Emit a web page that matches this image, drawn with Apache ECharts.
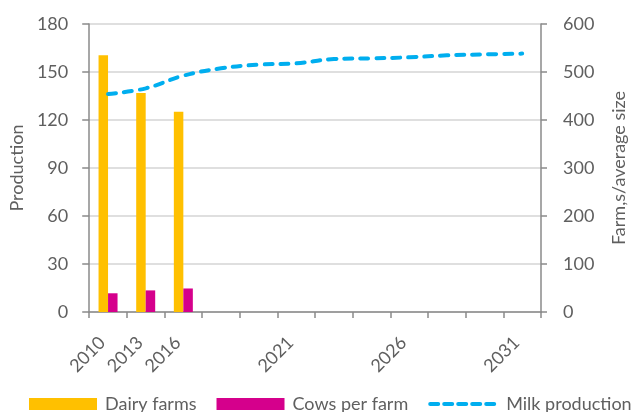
<!DOCTYPE html>
<html>
<head>
<meta charset="utf-8">
<script src="https://cdn.jsdelivr.net/npm/echarts@6/dist/echarts.min.js"></script>
<style>
html,body{margin:0;padding:0;background:#fff;}
#chart{width:636px;height:412px;}
</style>
</head>
<body>
<div id="chart"></div>
<script>
// Category labels (unlabelled categories are blank in the original)
const categories = ["2010","2013","2016","","","2021","","","2026","","","2031"];
// Bars on right axis (Farms / average size)
const dairyFarms = [535, 456, 417, null, null, null, null, null, null, null, null, null];
const cowsPerFarm = [39, 45, 49, null, null, null, null, null, null, null, null, null];
// Line on left axis (Production)
const milkProduction = [136.2, 139.8, 147.7, 152.3, 154.6, 155.4, 158.1, 158.5, 159.2, 160.4, 161.0, 161.5];
// Axis ticks
const leftTicks = {min: 0, max: 180, interval: 30};
const rightTicks = {min: 0, max: 600, interval: 100};

const FONT = "Lato";
const TXT = "#5f5f5f";
const AX = "#8a8a8a";

const chart = echarts.init(document.getElementById('chart'), null, {renderer: 'canvas'});
chart.setOption({
  backgroundColor: '#fff',
  animation: false,
  textStyle: {fontFamily: FONT},
  grid: {left: 83, right: 81, top: 24, bottom: 100, containLabel: false},
  legend: {
    left: 24, top: 390, width: 612,
    itemWidth: 68, itemHeight: 12, itemGap: 20,
    textStyle: {fontFamily: FONT, fontSize: 18, color: TXT, padding: [0, 0, 0, 3]},
    data: [
      {name: 'Dairy farms', icon: 'rect'},
      {name: 'Cows per farm', icon: 'rect'},
      {name: 'Milk production', itemStyle: {opacity: 0}, lineStyle: {width: 4, type: [8, 6], cap: 'round', color: '#00AEEF'}}
    ]
  },
  xAxis: {
    type: 'category',
    data: categories,
    boundaryGap: true,
    axisLine: {show: true, lineStyle: {color: AX, width: 1.5}},
    axisTick: {show: true, alignWithLabel: false, interval: 0, length: 6, lineStyle: {color: AX, width: 1.5}},
    axisLabel: {interval: 0, rotate: 45, margin: 22, padding: [0, 8, 0, 0], fontFamily: FONT, fontSize: 18, color: TXT},
    splitLine: {show: false}
  },
  yAxis: [
    {
      type: 'value', position: 'left',
      min: leftTicks.min, max: leftTicks.max, interval: leftTicks.interval,
      name: 'Production', nameLocation: 'middle', nameGap: 49, nameRotate: 90,
      nameTextStyle: {fontFamily: FONT, fontSize: 18, color: TXT},
      axisLine: {show: true, lineStyle: {color: AX, width: 1.5}},
      axisTick: {show: true, length: 7, lineStyle: {color: AX, width: 1.5}},
      axisLabel: {margin: 21, fontFamily: FONT, fontSize: 18, color: TXT},
      splitLine: {show: true, lineStyle: {color: '#d4d4d4', width: 1.5}}
    },
    {
      type: 'value', position: 'right',
      min: rightTicks.min, max: rightTicks.max, interval: rightTicks.interval,
      name: 'Farm,s/average size', nameLocation: 'middle', nameGap: 69, nameRotate: 90,
      nameTextStyle: {fontFamily: FONT, fontSize: 18, color: TXT},
      axisLine: {show: true, lineStyle: {color: AX, width: 1.5}},
      axisTick: {show: true, length: 6, lineStyle: {color: AX, width: 1.5}},
      axisLabel: {margin: 22, fontFamily: FONT, fontSize: 18, color: TXT},
      splitLine: {show: false}
    }
  ],
  series: [
    {
      name: 'Dairy farms', type: 'bar', yAxisIndex: 1,
      data: dairyFarms, barWidth: 9.5, barGap: '0%',
      itemStyle: {color: '#FFC000'}
    },
    {
      name: 'Cows per farm', type: 'bar', yAxisIndex: 1,
      data: cowsPerFarm, barWidth: 9.5, barGap: '0%',
      itemStyle: {color: '#D5008C'}
    },
    {
      name: 'Milk production', type: 'line', yAxisIndex: 0,
      data: milkProduction, smooth: 0.4, showSymbol: false, symbol: 'none',
      lineStyle: {color: '#00AEEF', width: 4, type: [8, 8], cap: 'round'},
      itemStyle: {color: '#00AEEF'}
    }
  ]
});
</script>
</body>
</html>
